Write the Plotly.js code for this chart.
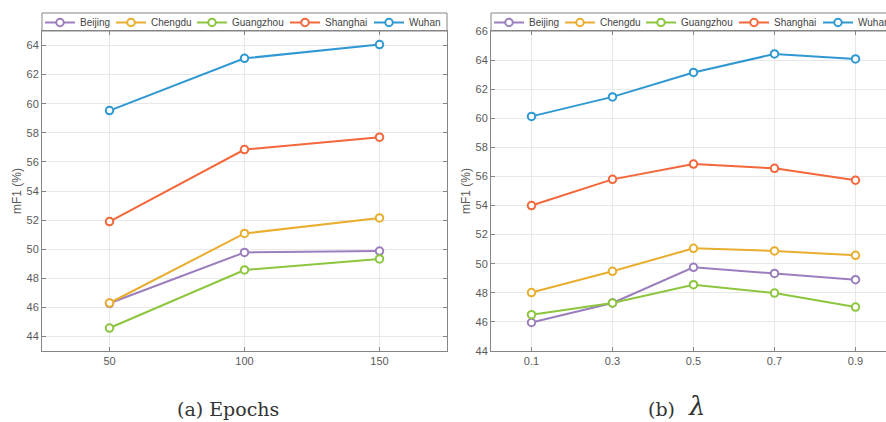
<!DOCTYPE html>
<html><head><meta charset="utf-8">
<script src="https://cdn.plot.ly/plotly-3.0.1.min.js"></script>
<style>html,body{margin:0;padding:0;overflow:hidden;background:#fff}#chart{width:900px;height:422px}</style>
</head><body><div id="chart"></div>
<script>
const cities = ['Beijing', 'Chengdu', 'Guangzhou', 'Shanghai', 'Wuhan'];
const cityColors = ['#9b7ebd', '#e9ae2f', '#8cc63e', '#f4673a', '#2f98d3'];

const epochs = [50, 100, 150];
const beijingEpochs   = [46.28, 49.78, 49.87];
const chengduEpochs   = [46.30, 51.08, 52.15];
const guangzhouEpochs = [44.58, 48.57, 49.33];
const shanghaiEpochs  = [51.90, 56.85, 57.70];
const wuhanEpochs     = [59.53, 63.12, 64.07];

const lambdas = [0.1, 0.3, 0.5, 0.7, 0.9];
const lambdaLabels = ['0.1', '0.3', '0.5', '0.7', '0.9'];
const beijingLambda   = [45.96, 47.30, 49.75, 49.33, 48.90];
const chengduLambda   = [48.02, 49.48, 51.06, 50.88, 50.58];
const guangzhouLambda = [46.50, 47.30, 48.56, 47.98, 47.02];
const shanghaiLambda  = [54.00, 55.80, 56.85, 56.56, 55.74];
const wuhanLambda     = [60.13, 61.47, 63.15, 64.42, 64.08];

const epochSeries = [beijingEpochs, chengduEpochs, guangzhouEpochs, shanghaiEpochs, wuhanEpochs];
const lambdaSeries = [beijingLambda, chengduLambda, guangzhouLambda, shanghaiLambda, wuhanLambda];

const W = 900, H = 422;
const px = v => v / W;
const py = v => (H - v) / H;

// legend entry start positions (px) for each panel
const legendLeftX = [47, 118, 199, 292, 376];
const legendRightX = [496, 567, 648, 741, 825];

function mk(x, y, i, xa, ya, lg) {
  return {
    x: x, y: y, name: cities[i], type: 'scatter', mode: 'lines+markers',
    xaxis: xa, yaxis: ya, legend: lg,
    line: {color: cityColors[i], width: 2},
    marker: {symbol: 'circle', size: 7.5, color: '#ffffff', line: {color: cityColors[i], width: 2}}
  };
}
const legName = k => (k === 1 ? 'legend' : 'legend' + k);
const traces = [];
epochSeries.forEach((s, i) => traces.push(mk(epochs, s, i, 'x', 'y', legName(i + 1))));
lambdaSeries.forEach((s, i) => traces.push(mk(lambdas, s, i, 'x2', 'y2', legName(i + 6))));

const axColor = '#858585';
const tickFont = {family: 'Liberation Sans, Arial, sans-serif', size: 11, color: '#5a5a5a'};
const baseAx = {
  showline: true, linecolor: axColor, linewidth: 1, mirror: 'ticks',
  ticks: 'inside', ticklen: 4, tickcolor: axColor, tickwidth: 1,
  showgrid: true, gridcolor: '#e8e8e8', gridwidth: 1, zeroline: false,
  tickfont: tickFont, fixedrange: true
};
const yTitle = {text: 'mF1 (%)', standoff: 2, font: {family: 'Liberation Sans, Arial, sans-serif', size: 12, color: '#5a5a5a'}};
const legendBase = {
  orientation: 'h', xanchor: 'left', yanchor: 'middle', y: py(22.5),
  bgcolor: 'rgba(0,0,0,0)', borderwidth: 0, itemwidth: 30, tracegroupgap: 0,
  font: {family: 'Liberation Sans, Arial, sans-serif', size: 10, color: '#444444'}
};
const capFont = {family: 'DejaVu Serif, Liberation Serif, serif', size: 19, color: '#333333'};
const lambdaFont = {family: 'DejaVu Serif, Liberation Serif, serif', size: 26, color: '#333333'};

const layout = {
  width: W, height: H, margin: {l: 0, r: 0, t: 0, b: 0, autoexpand: false},
  paper_bgcolor: '#ffffff', plot_bgcolor: '#ffffff',
  showlegend: true,
  xaxis: Object.assign({}, baseAx, {domain: [px(42), px(447)], range: [25, 175], tickvals: epochs, anchor: 'y'}),
  yaxis: Object.assign({}, baseAx, {domain: [py(351), py(31)], range: [43, 65], tick0: 44, dtick: 2, anchor: 'x', title: yTitle}),
  xaxis2: Object.assign({}, baseAx, {domain: [px(491), px(896)], range: [0, 1], tickvals: lambdas, ticktext: lambdaLabels, anchor: 'y2'}),
  yaxis2: Object.assign({}, baseAx, {domain: [py(351), py(31)], range: [44, 66], tick0: 44, dtick: 2, anchor: 'x2', title: yTitle}),
  shapes: [
    {type: 'rect', xref: 'paper', yref: 'paper', x0: px(42), x1: px(447), y0: py(31), y1: py(13), line: {color: axColor, width: 1}, fillcolor: 'rgba(0,0,0,0)'},
    {type: 'rect', xref: 'paper', yref: 'paper', x0: px(491), x1: px(896), y0: py(31), y1: py(13), line: {color: axColor, width: 1}, fillcolor: 'rgba(0,0,0,0)'}
  ],
  annotations: [
    {xref: 'paper', yref: 'paper', x: px(228), y: py(409), xanchor: 'center', yanchor: 'middle', showarrow: false, text: '(a) Epochs', font: capFont},
    {xref: 'paper', yref: 'paper', x: px(661), y: py(409), xanchor: 'center', yanchor: 'middle', showarrow: false, text: '(b)', font: capFont},
    {xref: 'paper', yref: 'paper', x: px(696), y: py(406), xanchor: 'center', yanchor: 'middle', showarrow: false, text: '<i>λ</i>', font: lambdaFont}
  ]
};
legendLeftX.forEach((v, i) => { layout[legName(i + 1)] = Object.assign({}, legendBase, {x: px(v - 7)}); });
legendRightX.forEach((v, i) => { layout[legName(i + 6)] = Object.assign({}, legendBase, {x: px(v - 7)}); });

Plotly.newPlot('chart', traces, layout, {displayModeBar: false, staticPlot: true});
</script></body></html>
